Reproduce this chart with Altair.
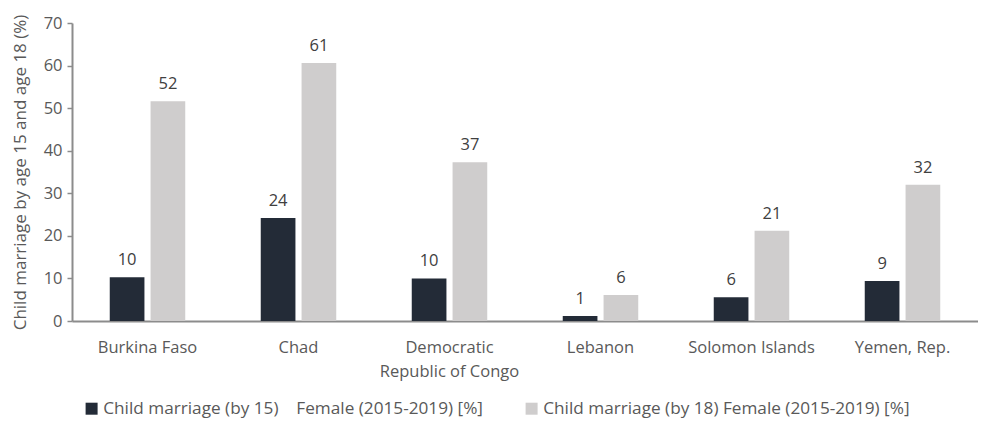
import altair as alt
import pandas as pd

countries = ["Burkina Faso", "Chad", "Democratic Republic of Congo", "Lebanon", "Solomon Islands", "Yemen, Rep."]
by15 = [10.3, 24.2, 10.0, 1.2, 5.6, 9.4]
by18 = [51.6, 60.6, 37.3, 6.1, 21.2, 32.0]
series = ["Child marriage (by 15)\u00a0\u00a0\u00a0 Female (2015-2019) [%]",
          "Child marriage (by 18) Female (2015-2019) [%]"]
colors = ["#232b37", "#cfcdcd"]

rows = []
for i, c in enumerate(countries):
    rows.append({"country": c, "series": series[0], "value": by15[i], "label": f"{round(by15[i])}"})
    rows.append({"country": c, "series": series[1], "value": by18[i], "label": f"{round(by18[i])}"})
df = pd.DataFrame(rows)

FONT = "Open Sans"
label_expr = "datum.value == 'Democratic Republic of Congo' ? ['Democratic', 'Republic of Congo'] : datum.value"

x = alt.X("country:N", sort=countries, title=None,
          scale=alt.Scale(paddingInner=0.5, paddingOuter=0.25),
          axis=alt.Axis(labelAngle=0, ticks=False, domainColor="#8c8c8c", domainWidth=2,
                        labelColor="#595959", labelFont=FONT, labelFontSize=16.5,
                        labelPadding=18, labelExpr=label_expr, labelLineHeight=24))
xo = alt.XOffset("series:N", sort=series, scale=alt.Scale(paddingInner=0.15, paddingOuter=0))
y = alt.Y("value:Q", title="Child marriage by age 15 and age 18 (%)",
          scale=alt.Scale(domain=[0, 70], nice=False),
          axis=alt.Axis(values=[0, 10, 20, 30, 40, 50, 60, 70], grid=False, domainColor="#8c8c8c",
                        domainWidth=2, tickColor="#8c8c8c", tickSize=5, tickWidth=1.5,
                        labelColor="#595959", labelFont=FONT, labelFontSize=16.5, labelPadding=5,
                        titleFont=FONT, titleFontSize=17, titleFontWeight="normal",
                        titleColor="#595959", titlePadding=14))

color = alt.Color("series:N", sort=series, scale=alt.Scale(domain=series, range=colors),
                  legend=alt.Legend(title=None, orient="none", direction="horizontal",
                                    legendX=11, legendY=377, symbolType="square", symbolSize=144,
                                    symbolStrokeWidth=0, labelFont=FONT, labelFontSize=17.2,
                                    labelColor="#595959", columnPadding=40, labelLimit=500,
                                    labelOffset=3, symbolOpacity=1))

bars = alt.Chart(df).mark_bar().encode(x=x, xOffset=xo, y=y, color=color)
text = alt.Chart(df).mark_text(baseline="bottom", dy=-9, font=FONT, fontSize=16.5, color="#404040").encode(
    x=alt.X("country:N", sort=countries), xOffset=xo, y="value:Q", text="label:N")

chart = (bars + text).properties(
    width=906, height=298,
    padding={"left": 3, "top": 6, "right": 0, "bottom": 4},
).configure_view(strokeWidth=0, stroke="transparent")

chart.save("out.html", embed_options={"renderer": "svg", "actions": False})
